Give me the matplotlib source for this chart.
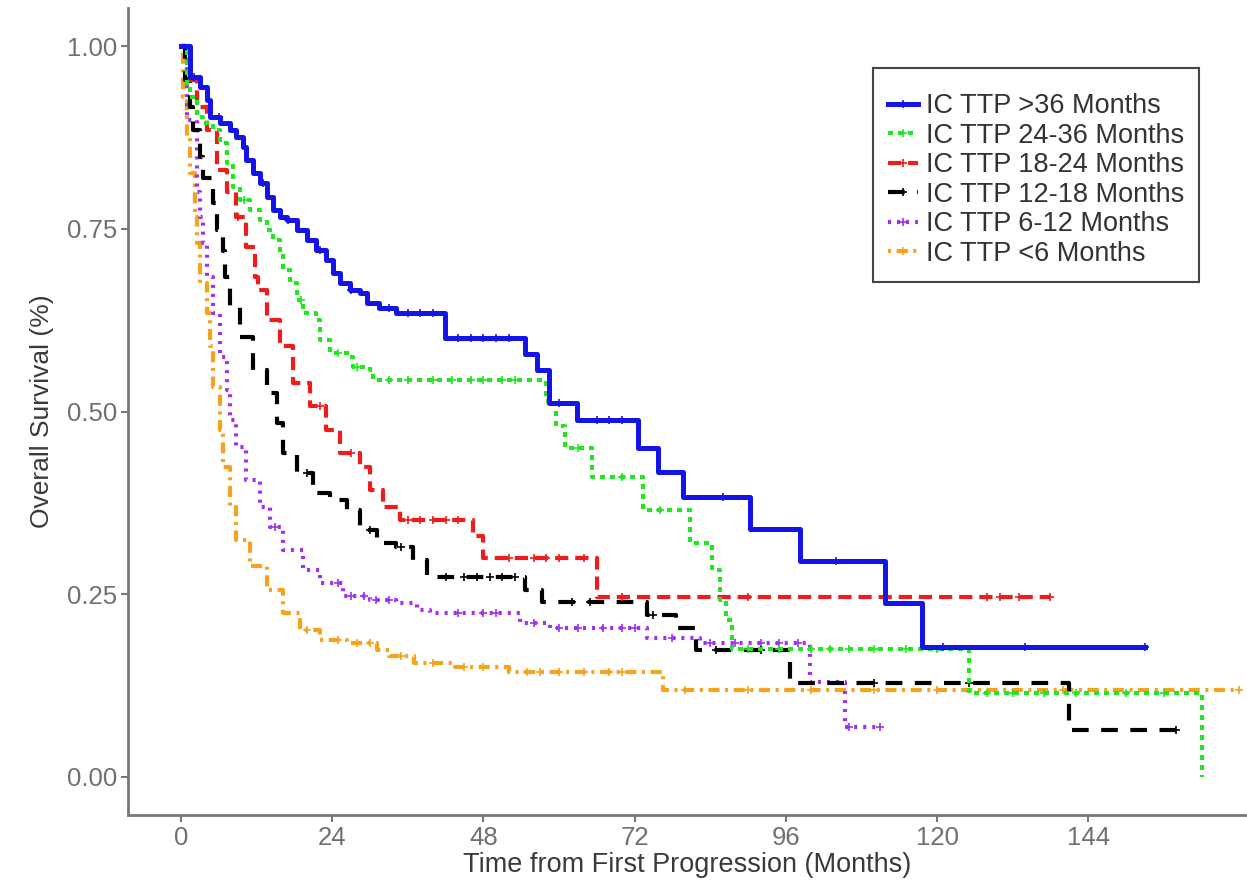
import matplotlib
matplotlib.use('Agg')
import matplotlib.pyplot as plt
from matplotlib.lines import Line2D
import numpy as np

plt.rcParams['font.family'] = ['Liberation Sans', 'DejaVu Sans']
plt.rcParams['lines.scale_dashes'] = False

# krzywe Kaplana-Meiera (czas w miesiacach, przezycie)
t_36 = [0, 1.4, 3.0, 4.1, 4.6, 6.2, 7.8, 8.8, 9.9, 10.4, 11.5, 12.5, 13.6, 14.6, 15.7, 16.8,
        18.4, 20.0, 21.5, 23.1, 24.1, 25.2, 26.8, 28.4, 29.5, 31.5, 34.2, 41.9, 54.6, 56.5,
        58.4, 62.9, 72.5, 75.7, 79.7, 90.3, 98.3, 111.7, 117.6, 153]
s_36 = [1.0, 0.958, 0.944, 0.926, 0.903, 0.895, 0.885, 0.876, 0.862, 0.844, 0.826, 0.812,
        0.794, 0.775, 0.766, 0.762, 0.748, 0.735, 0.721, 0.707, 0.689, 0.676, 0.666, 0.662,
        0.648, 0.642, 0.635, 0.60, 0.578, 0.557, 0.512, 0.488, 0.45, 0.417, 0.383, 0.339,
        0.295, 0.238, 0.178, 0.178]

t_24 = [0, 0.9, 1.4, 2.5, 3.5, 5.1, 6.2, 7.3, 8.3, 9.4, 11.0, 12.5, 13.6, 14.6, 15.7, 16.2,
        17.3, 18.4, 19.4, 21.5, 22.1, 23.7, 26.8, 27.3, 30.0, 30.5, 58.0, 59.5, 61.0, 65.3,
        73.3, 80.8, 84.3, 85.5, 86.5, 87.5, 125.0, 162.0, 162.0]
s_24 = [1.0, 0.944, 0.93, 0.903, 0.895, 0.885, 0.867, 0.84, 0.807, 0.789, 0.775, 0.762,
        0.748, 0.735, 0.716, 0.694, 0.676, 0.652, 0.635, 0.625, 0.598, 0.58, 0.575, 0.561,
        0.557, 0.543, 0.515, 0.48, 0.45, 0.41, 0.365, 0.32, 0.283, 0.242, 0.215, 0.175,
        0.115, 0.0, 0.0]

t_18 = [0, 1.4, 2.5, 4.1, 5.7, 7.3, 8.8, 10.4, 11.7, 12.2, 13.6, 15.7, 17.8, 20.5, 23.1,
        25.2, 28.4, 30.0, 32.1, 34.8, 46.4, 48.0, 66.0, 138]
s_18 = [1.0, 0.953, 0.917, 0.885, 0.83, 0.80, 0.766, 0.725, 0.684, 0.666, 0.625, 0.589,
        0.539, 0.507, 0.475, 0.443, 0.424, 0.393, 0.37, 0.352, 0.33, 0.30, 0.246, 0.246]

t_12 = [0, 0.6, 1.4, 1.9, 3.0, 3.5, 5.1, 5.7, 6.7, 7.0, 7.8, 9.4, 11.5, 13.6, 15.2, 16.2,
        18.4, 21.0, 23.7, 26.3, 28.4, 31.1, 34.2, 36.9, 39.0, 54.6, 57.3, 74.0, 78.6, 81.8,
        96.7, 141.0, 158]
s_12 = [1.0, 0.953, 0.917, 0.885, 0.848, 0.82, 0.785, 0.748, 0.72, 0.684, 0.643, 0.602,
        0.557, 0.525, 0.484, 0.443, 0.416, 0.388, 0.379, 0.365, 0.338, 0.32, 0.315, 0.297,
        0.274, 0.256, 0.24, 0.222, 0.204, 0.174, 0.128, 0.064, 0.064]

t_6 = [0, 0.9, 2.5, 3.0, 3.5, 4.1, 5.1, 6.2, 7.3, 7.8, 8.8, 10.4, 12.5, 14.1, 16.2, 19.4,
       22.1, 25.8, 30.0, 34.2, 37.4, 39.5, 53.8, 58.6, 74.0, 82.4, 99.8, 105.4, 111]
s_6 = [1.0, 0.899, 0.80, 0.766, 0.73, 0.684, 0.635, 0.575, 0.53, 0.488, 0.452, 0.406,
       0.37, 0.342, 0.31, 0.283, 0.265, 0.247, 0.242, 0.238, 0.228, 0.224, 0.21, 0.204,
       0.19, 0.183, 0.13, 0.068, 0.068]

t_0 = [0, 0.4, 0.9, 1.4, 2.2, 2.5, 3.0, 4.1, 4.6, 5.1, 6.2, 6.7, 7.8, 8.8, 11.0, 13.6,
       16.2, 18.9, 22.1, 26.3, 31.1, 33.0, 37.0, 43.5, 52.0, 76.5, 168]
s_0 = [1.0, 0.93, 0.876, 0.826, 0.766, 0.73, 0.676, 0.635, 0.589, 0.534, 0.475, 0.424,
       0.37, 0.324, 0.288, 0.256, 0.224, 0.201, 0.187, 0.183, 0.174, 0.165, 0.156, 0.15,
       0.144, 0.119, 0.119]

# obserwacje ocenzurowane (znaczniki "+")
c_36 = [2, 6, 13, 17, 22, 27, 33, 36, 38, 40, 44, 46, 48, 50, 52, 60, 66, 68, 70, 86, 104, 121, 134, 153]
c_24 = [10, 19, 25, 28, 33, 36, 40, 43, 46, 48, 51, 53, 63, 70, 76, 90, 95, 100, 103, 106,
        110, 115, 120, 128, 132, 137, 142, 150, 156]
c_18 = [9, 22, 27, 36, 38, 40, 42, 44, 52, 56, 58, 60, 64, 70, 90, 128, 130, 133, 138]
c_12 = [20, 30, 35, 42, 45, 47, 49, 51, 53, 62, 65, 75, 85, 92, 110, 125, 158]
c_6 = [15, 25, 27, 29, 31, 33, 44, 48, 50, 56, 60, 63, 67, 70, 72, 78, 84, 88, 92, 95, 98, 106, 111]
c_0 = [20, 25, 28, 30, 35, 40, 45, 48, 55, 57, 60, 64, 68, 70, 80, 90, 100, 110, 120, 140, 168]

labels = ['IC TTP >36 Months', 'IC TTP 24-36 Months', 'IC TTP 18-24 Months',
          'IC TTP 12-18 Months', 'IC TTP 6-12 Months', 'IC TTP <6 Months']
kolory = ['#1414e6', '#22e622', '#ee1c1c', '#000000', '#a032ee', '#f5a31c']
style = ['-', (0, (3.6, 3.6)), (0, (9.5, 5)), (0, (12, 9)), (0, (2.2, 4.3)), (0, (2.2, 4, 8, 4))]
grubosci = [3.6, 3.0, 3.0, 3.0, 3.0, 3.0]

czasy = [t_36, t_24, t_18, t_12, t_6, t_0]
przezycie = [s_36, s_24, s_18, s_12, s_6, s_0]
cenzura = [c_36, c_24, c_18, c_12, c_6, c_0]

fig = plt.figure(figsize=(12.47, 8.84), dpi=100)
ax = fig.add_axes([128 / 1247, 1 - 815 / 884, 1119 / 1247, 807 / 884])

# od ostatniej grupy, zeby niebieska byla na wierzchu
for i in range(5, -1, -1):
    t = np.array(czasy[i])
    s = np.array(przezycie[i])
    ax.step(t, s, where='post', color=kolory[i], linestyle=style[i], linewidth=grubosci[i])
    c = np.array(cenzura[i])
    idx = np.searchsorted(t, c, side='right') - 1
    ax.plot(c, s[idx], linestyle='none', marker='+', markersize=6, markeredgewidth=1.2,
            color=kolory[i])

ax.set_xlim(-8.4, 169.2)
ax.set_ylim(-0.052, 1.052)
ax.set_xticks([0, 24, 48, 72, 96, 120, 144])
ax.set_yticks([0, 0.25, 0.5, 0.75, 1.0])
ax.set_yticklabels(['0.00', '0.25', '0.50', '0.75', '1.00'])

for sp in ['top', 'right']:
    ax.spines[sp].set_visible(False)
for sp in ['left', 'bottom']:
    ax.spines[sp].set_color('#777777')
    ax.spines[sp].set_linewidth(2.0)
ax.tick_params(colors='#777777', labelcolor='#707070', labelsize=18.5, length=5, width=1.5, pad=3)

ax.set_xlabel('Time from First Progression (Months)', fontsize=19.5, color='#3a3a3a', labelpad=1)
ax.set_ylabel('Overall Survival (%)', fontsize=19, color='#3a3a3a', labelpad=9)

uchwyty = []
for i in range(6):
    uchwyty.append(Line2D([0], [0], color=kolory[i], linestyle=style[i], linewidth=grubosci[i],
                          marker='+', markersize=6, markeredgewidth=1.2))
# pusty tytul legendy jak w ggplot (troche miejsca nad wpisami)
leg = ax.legend(uchwyty, labels, loc='upper left', bbox_to_anchor=(0.666, 0.926),
                borderaxespad=0, fontsize=19.5, handlelength=1.1, handletextpad=0.3,
                labelspacing=0.13, borderpad=0.55, fancybox=False, framealpha=1,
                title=' ', title_fontsize=5)
leg.get_frame().set_edgecolor('#444444')
leg.get_frame().set_linewidth(1.5)
for txt in leg.get_texts():
    txt.set_color('#333333')

fig.savefig('out.png', dpi=100)
